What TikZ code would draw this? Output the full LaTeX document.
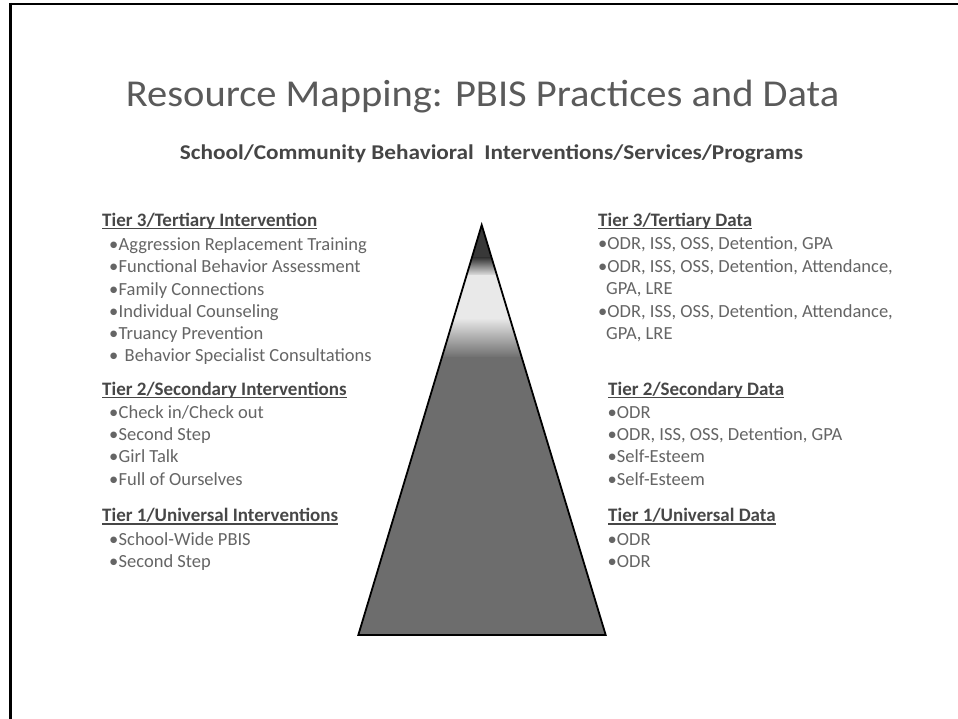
\documentclass[tikz,border=0pt]{standalone}
\usepackage{fontspec}
\setmainfont{Carlito}
\definecolor{titlegray}{HTML}{5A5A5A}
\definecolor{subgray}{HTML}{454545}
\definecolor{headgray}{HTML}{474747}
\definecolor{itemgray}{HTML}{656565}
\definecolor{tridark}{HTML}{383838}
\definecolor{trilight}{HTML}{E9E9E9}
\definecolor{trimid}{HTML}{6D6D6D}
\newcommand\hdul[1]{\setbox0\hbox{#1}\rlap{\rule[-2.8pt]{\wd0}{1.2pt}}\box0}
\begin{document}
\begin{tikzpicture}[x=1pt,y=-1pt,
  txt/.style={anchor=base west, inner sep=0pt, font=\fontsize{18.5}{22}\selectfont, text=itemgray},
  head/.style={anchor=base west, inner sep=0pt, font=\fontsize{19}{22}\selectfont\bfseries, text=headgray},
  framel/.style={line width=2.5pt, black}]
\useasboundingbox (0,0) rectangle (958,719);
\fill[white] (0,0) rectangle (958,719);
% frame
\coordinate (ftl) at (9,4.2);
\coordinate (ftr) at (958,4.2);
\coordinate (fl1) at (10.3,3);
\coordinate (fl2) at (10.3,719);
\draw[framel] (ftl) -- (ftr);
\draw[framel] (fl1) -- (fl2);
% title
\node[anchor=base, inner sep=0pt, font=\fontsize{38}{42}\selectfont, text=titlegray] (title) at (482.5,106.7) {\scalebox{1.066}[1]{Resource Mapping: PBIS Practices and Data}};
\node[anchor=base, inner sep=0pt, font=\fontsize{21}{24}\selectfont\bfseries, text=subgray] (sub) at (491.5,159.5) {\scalebox{1.107}[1]{School/Community Behavioral\ \ Interventions/Services/Programs}};
% pyramid
\coordinate (apex) at (481.7,225);
\coordinate (bl) at (358.3,635);
\coordinate (br) at (605.7,635);
\begin{scope}
  \clip (apex) -- (bl) -- (br) -- cycle;
  \fill[tridark] (350,220) rectangle (615,259);
  \shade[top color=tridark, bottom color=trilight] (350,258) rectangle (615,276);
  \fill[trilight] (350,275) rectangle (615,319);
  \shade[top color=trilight, bottom color=trimid] (350,318) rectangle (615,358);
  \fill[trimid] (350,357) rectangle (615,640);
\end{scope}
\draw[line width=1.8pt, line join=miter] (apex) -- (bl) -- (br) -- cycle;
% left column
\node[head] (l3h) at (102,226.5) {\hdul{Tier 3/Tertiary Intervention}};
\foreach \t/\y [count=\i] in {{Aggression Replacement Training}/250.5, {Functional Behavior Assessment}/272.7, {Family Connections}/295, {Individual Counseling}/317, {Truancy Prevention}/339.3}{
  \node[txt] (l3b\i) at (109,\y) {•};
  \node[txt] (l3t\i) at (118.5,\y) {\t};
}
\node[txt] (l3b6) at (109,361.5) {•};
\node[txt] (l3t6) at (124.5,361.5) {Behavior Specialist Consultations};
\node[head] (l2h) at (102,395) {\hdul{Tier 2/Secondary Interventions}};
\foreach \t/\y [count=\i] in {{Check in/Check out}/418.3, {Second Step}/440.7, {Girl Talk}/462.7, {Full of Ourselves}/485}{
  \node[txt] (l2b\i) at (109,\y) {•};
  \node[txt] (l2t\i) at (118.5,\y) {\t};
}
\node[head] (l1h) at (102,521.7) {\hdul{Tier 1/Universal Interventions}};
\foreach \t/\y [count=\i] in {{School-Wide PBIS}/545.5, {Second Step}/567.5}{
  \node[txt] (l1b\i) at (109,\y) {•};
  \node[txt] (l1t\i) at (118.5,\y) {\t};
}
% right column
\node[head] (r3h) at (598,226.5) {\hdul{Tier 3/Tertiary Data}};
\node[txt] (r3t1) at (598,250) {•ODR, ISS, OSS, Detention, GPA};
\node[txt] (r3t2) at (598,272.5) {•ODR, ISS, OSS, Detention, Attendance,};
\node[txt] (r3t3) at (606,294.7) {GPA, LRE};
\node[txt] (r3t4) at (598,317) {•ODR, ISS, OSS, Detention, Attendance,};
\node[txt] (r3t5) at (606,339.3) {GPA, LRE};
\node[head] (r2h) at (608,395) {\hdul{Tier 2/Secondary Data}};
\node[txt] (r2t1) at (607.5,418.3) {•ODR};
\node[txt] (r2t2) at (607.5,440.7) {•ODR, ISS, OSS, Detention, GPA};
\node[txt] (r2t3) at (607.5,462.7) {•Self-Esteem};
\node[txt] (r2t4) at (607.5,485) {•Self-Esteem};
\node[head] (r1h) at (608,521.7) {\hdul{Tier 1/Universal Data}};
\node[txt] (r1t1) at (607.5,545.5) {•ODR};
\node[txt] (r1t2) at (607.5,567.5) {•ODR};
\end{tikzpicture}
\end{document}
